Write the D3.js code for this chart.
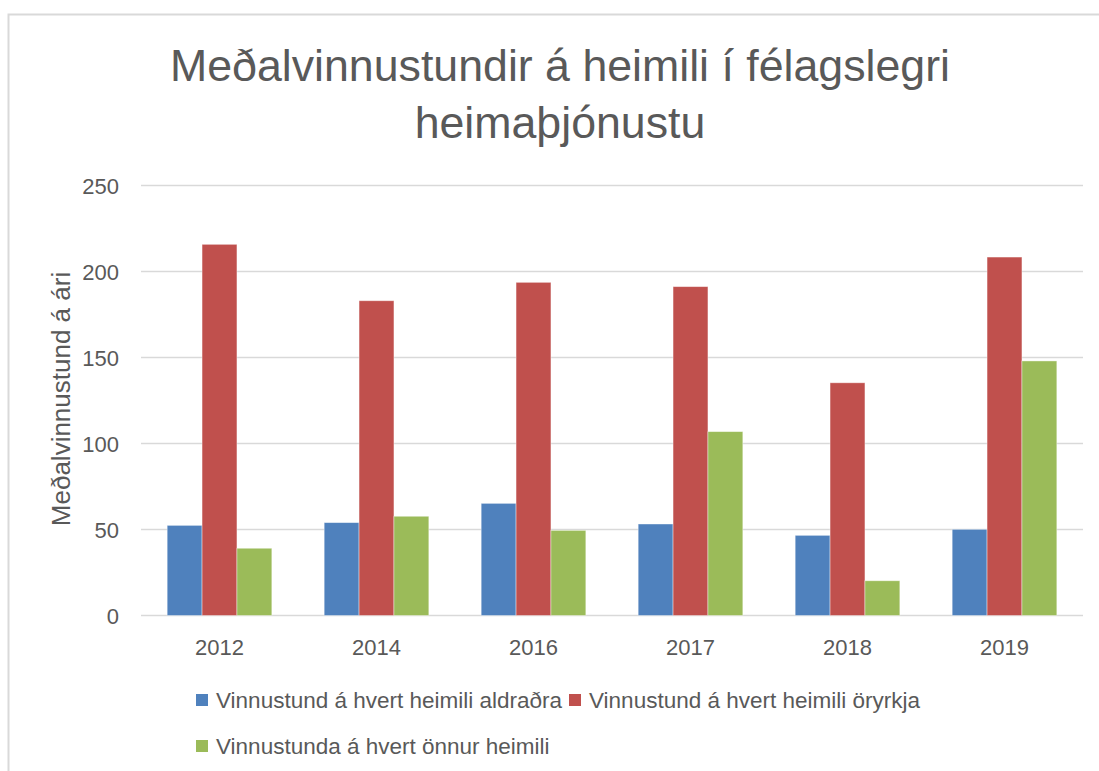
<!DOCTYPE html>
<html>
<head>
<meta charset="utf-8">
<script src="https://cdn.jsdelivr.net/npm/d3@7"></script>
<style>
  body { margin: 0; background: #fff; }
  text { font-family: "Liberation Sans", Arial, sans-serif; fill: #595959; }
</style>
</head>
<body>
<script>
var w = 1099;
var h = 771;

// data
var years = ["2012", "2014", "2016", "2017", "2018", "2019"];
var aldradra = [52.4, 54.0, 65.2, 53.2, 46.6, 50.1];
var oryrkja = [215.8, 183.0, 193.7, 191.2, 135.3, 208.4];
var onnur = [39.1, 57.7, 49.5, 106.9, 20.2, 148.0];
var seriesNames = ["Vinnustund á hvert heimili aldraðra", "Vinnustund á hvert heimili öryrkja", "Vinnustunda á hvert önnur heimili"];
var colors = ["#4F81BD", "#C0504D", "#9BBB59"];
var yTicks = [0, 50, 100, 150, 200, 250];

var series = [aldradra, oryrkja, onnur];

var margin = {top: 185.5, right: 16, bottom: 155.5, left: 141};

var svg = d3.select("body").append("svg")
    .attr("width", w)
    .attr("height", h);

svg.append("rect")
    .attr("width", w).attr("height", h)
    .attr("fill", "#fff");

// chart border (only top and left visible)
svg.append("rect")
    .attr("x", 8.5).attr("y", 14.5)
    .attr("width", 1300).attr("height", 900)
    .attr("fill", "none")
    .attr("stroke", "#d9d9d9")
    .attr("stroke-width", 2);

// title
var title = svg.append("text")
    .attr("text-anchor", "middle")
    .style("font-size", "44.7px");
title.append("tspan").attr("x", 560).attr("y", 81).text("Meðalvinnustundir á heimili í félagslegri");
title.append("tspan").attr("x", 560).attr("y", 138).text("heimaþjónustu");

var x0 = d3.scaleBand()
    .domain(years)
    .range([margin.left, w - margin.right])
    .paddingInner(1/3)
    .paddingOuter(1/6);

var x1 = d3.scaleBand()
    .domain([0, 1, 2])
    .range([0, x0.bandwidth()]);

var y = d3.scaleLinear()
    .domain([0, 250])
    .range([h - margin.bottom, margin.top]);

// gridlines
svg.append("g")
    .selectAll("line")
    .data(yTicks)
    .enter().append("line")
    .attr("x1", margin.left)
    .attr("x2", w - margin.right)
    .attr("y1", function(d) { return y(d); })
    .attr("y2", function(d) { return y(d); })
    .attr("stroke", "#d9d9d9")
    .attr("stroke-width", 1.3);

// y axis labels
var yAxis = svg.append("g")
    .attr("transform", "translate(" + (margin.left - 22) + ",0)")
    .call(d3.axisLeft(y).tickValues(yTicks).tickSize(0).tickPadding(0));
yAxis.select(".domain").remove();
yAxis.selectAll("text")
    .attr("dy", "0.36em")
    .style("font-size", "22px")
    .style("fill", "#595959");

// x axis labels
var xAxis = svg.append("g")
    .attr("transform", "translate(0," + y(0) + ")")
    .call(d3.axisBottom(x0).tickSize(0).tickPadding(24));
xAxis.select(".domain").remove();
xAxis.selectAll("text")
    .style("font-size", "22px")
    .style("fill", "#595959");

// y axis title
svg.append("text")
    .attr("transform", "translate(70,399) rotate(-90)")
    .attr("text-anchor", "middle")
    .style("font-size", "26px")
    .text("Meðalvinnustund á ári");

// bars
var groups = svg.append("g")
    .selectAll("g")
    .data(years)
    .enter().append("g")
    .attr("transform", function(d) { return "translate(" + x0(d) + ",0)"; });

groups.selectAll("rect")
    .data(function(d, i) { return series.map(function(s, k) { return {k: k, v: s[i]}; }); })
    .enter().append("rect")
    .attr("x", function(d) { return x1(d.k); })
    .attr("y", function(d) { return y(d.v); })
    .attr("width", x1.bandwidth())
    .attr("height", function(d) { return y(0) - y(d.v); })
    .attr("fill", function(d) { return colors[d.k]; })
    .attr("stroke", "#fff")
    .attr("stroke-opacity", 0.5)
    .attr("stroke-width", 0.8);

// legend
var legendPos = [[196, 700], [569, 700], [196, 746]];
var legend = svg.append("g")
    .selectAll("g")
    .data(seriesNames)
    .enter().append("g")
    .attr("transform", function(d, i) { return "translate(" + legendPos[i][0] + "," + legendPos[i][1] + ")"; });

legend.append("rect")
    .attr("x", 0).attr("y", -6)
    .attr("width", 12).attr("height", 12)
    .attr("fill", function(d, i) { return colors[i]; });

legend.append("text")
    .attr("x", 20)
    .attr("dy", "0.36em")
    .style("font-size", "22.5px")
    .text(function(d) { return d; });
</script>
</body>
</html>
